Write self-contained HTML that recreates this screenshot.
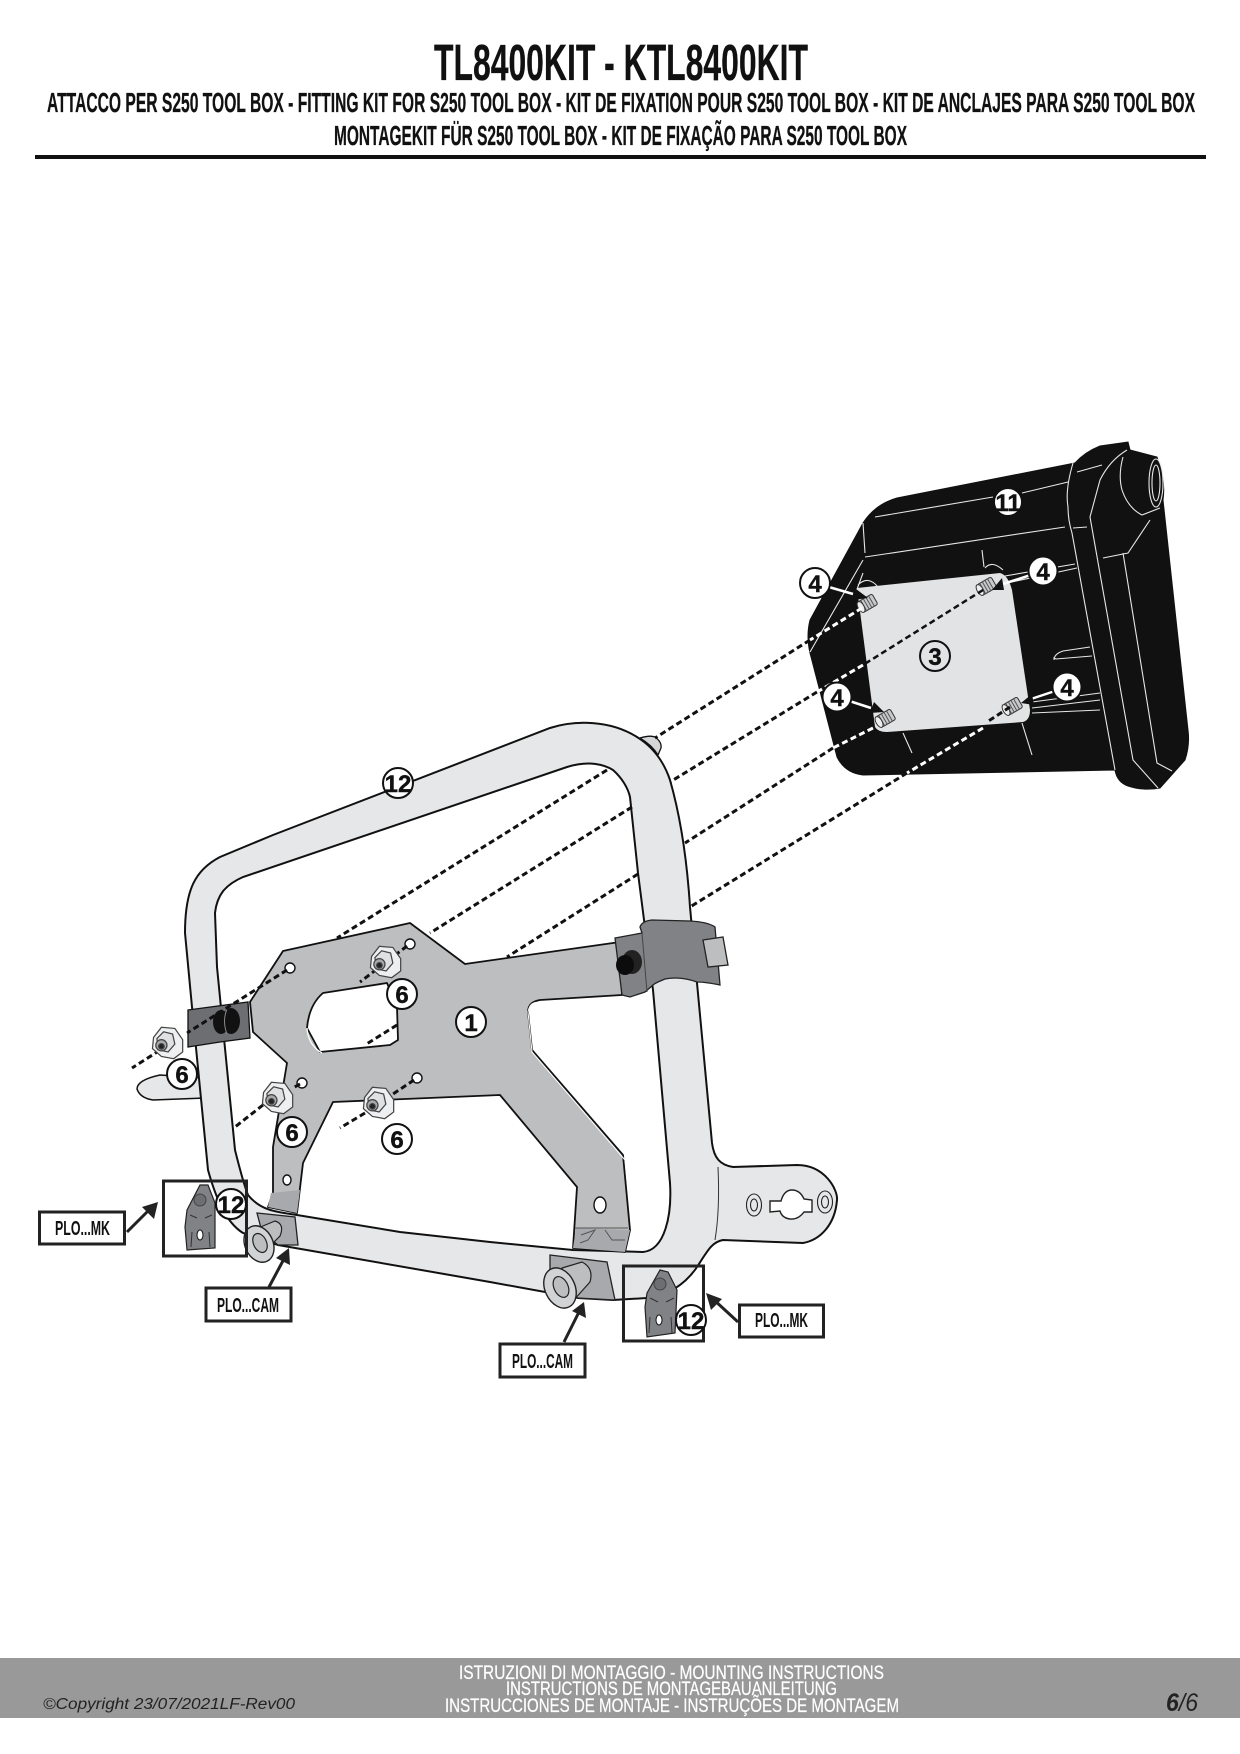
<!DOCTYPE html>
<html><head><meta charset="utf-8"><title>TL8400KIT</title>
<style>html,body{margin:0;padding:0;background:#fff}svg{display:block}
text{font-family:"Liberation Sans",sans-serif}</style></head>
<body>
<svg xmlns="http://www.w3.org/2000/svg" width="1240" height="1754" viewBox="0 0 1240 1754">
<rect width="1240" height="1754" fill="#fff"/>
<!-- header -->
<g font-weight="700" fill="#111" stroke="#111" stroke-width=".3">
<text x="434" y="80" font-size="51" textLength="374" lengthAdjust="spacingAndGlyphs">TL8400KIT - KTL8400KIT</text>
<text x="47" y="112" font-size="28" textLength="1148" lengthAdjust="spacingAndGlyphs">ATTACCO  PER S250 TOOL BOX - FITTING KIT FOR S250 TOOL BOX - KIT DE FIXATION POUR S250 TOOL BOX - KIT DE ANCLAJES PARA S250 TOOL BOX</text>
<text x="334" y="145" font-size="28" textLength="573" lengthAdjust="spacingAndGlyphs">MONTAGEKIT FÜR S250 TOOL BOX - KIT DE FIXAÇÃO PARA S250 TOOL BOX</text>
</g>
<rect x="35" y="155" width="1171" height="4" fill="#111"/>

<!-- footer -->
<rect x="0" y="1658" width="1240" height="60" fill="#999"/>
<g fill="#fff" stroke="#fff" stroke-width=".25" font-size="19">
<text x="459" y="1679" textLength="425" lengthAdjust="spacingAndGlyphs">ISTRUZIONI DI MONTAGGIO  -  MOUNTING INSTRUCTIONS</text>
<text x="506" y="1695" textLength="331" lengthAdjust="spacingAndGlyphs">INSTRUCTIONS DE MONTAGEBAUANLEITUNG</text>
<text x="445" y="1712" textLength="454" lengthAdjust="spacingAndGlyphs">INSTRUCCIONES DE MONTAJE - INSTRUÇÕES DE MONTAGEM</text>
</g>
<text x="43" y="1709" font-size="15.5" font-style="italic" fill="#222" textLength="252" lengthAdjust="spacingAndGlyphs">©Copyright 23/07/2021LF-Rev00</text>
<text x="1166" y="1711" font-size="25" font-style="italic" fill="#222" textLength="32" lengthAdjust="spacingAndGlyphs"><tspan font-weight="700">6</tspan>/6</text>

<!-- tool box -->
<path d="M1075,463 L897,498 C880,503 870,512 863,523 L810,620 Q806,636 810,653 L837,757 Q845,773 863,775 L1115,770 Q1117,782 1128,786 Q1143,791 1160,788 L1185,760 Q1190,745 1188,730 L1163,500 Q1166,480 1157,457 L1130,450 L1128,442 L1100,446 Q1085,452 1075,463 Z" fill="#111" stroke="#111"/>
<g fill="none" stroke="#e6e7e8" stroke-width="1.1">
<path d="M875,517 L993,497 M1022,493 L1068,482 M1077,472 L1102,465"/>
<path d="M863,523 L865,553 M865,557 L1065,527 M1073,528 L1087,527 M863,560 L810,652"/>
<path d="M1073,463 Q1065,490 1068,507 Q1068,520 1072,533 L1115,770"/>
<path d="M1127,450 Q1110,460 1100,480 L1090,517 L1133,760 L1158,788"/>
<path d="M1123,457 Q1118,475 1122,490 Q1128,508 1142,515 L1160,508"/>
<ellipse cx="1156" cy="483" rx="7" ry="24"/>
<ellipse cx="1156" cy="483" rx="4" ry="18"/>
<path d="M1150,520 L1128,553 L1103,558 M1123,553 L1157,763 L1172,771"/>
<path d="M1090,647 L1063,651 Q1054,654 1054,660 L1054,658 L1056,659 L1092,656"/>
<path d="M1007,583 L1077,568 M1005,576 L1075,564 M1032,702 L1100,693 M1032,708 L1100,700 M1032,713 L1100,710"/>
<path d="M903,733 L912,753 M1022,723 L1032,755"/>
<path d="M982,550 L984,567 M985,568 Q992,560 1003,570 M863,573 L856,592 M858,585 Q868,575 878,587"/>
</g>
<!-- mounting plate -->
<path d="M857,588 L1000,573 Q1008,575 1012,590 L1030,710 Q1030,720 1023,722 L887,732 Q878,732 875,727 Z" fill="#e2e3e4"/>

<!-- wing -->
<path d="M205,1078 L160,1075 Q137,1080 137,1089 Q140,1098 153,1100 L205,1098 Z" fill="#e6e7e8" stroke="#111" stroke-width="1.5"/>

<!-- frame -->
<path fill-rule="evenodd" d="M185,933 C185,890 195,870 220,857 L273,835 L550,728 C575,720 610,720 637,737 C655,748 665,765 670,780 C680,815 687,860 690,907 L697,983 L712,1143 C714,1158 720,1165 733,1167 L797,1165 C825,1165 838,1190 837,1200 C835,1225 820,1240 803,1243 L723,1240 C712,1242 708,1250 697,1267 C685,1285 665,1297 647,1298 L613,1300 L578,1298 L490,1282 L278,1245 L243,1233 C225,1222 215,1195 208,1170 L192,1007 Z
M215,913 C217,895 225,885 243,877 L567,767 C590,760 605,765 613,770 C622,778 628,788 630,797 L638,873 L653,990 L670,1183 C672,1215 665,1250 643,1252 L573,1250 L490,1242 L400,1232 L297,1215 C275,1212 260,1210 248,1195 C244,1185 240,1170 235,1150 L217,967 Z" fill="#e6e7e8" stroke="#111" stroke-width="2"/>
<path d="M640,738 Q650,735 655,737 Q662,742 661,748 L658,755 Q652,745 640,738 Z" fill="#d5d6d8" stroke="#111" stroke-width="1.3"/>
<path d="M718,1167 Q720,1210 715,1240" fill="none" stroke="#333" stroke-width="1"/>
<g fill="none" stroke="#222" stroke-width="1.1">
<ellipse cx="754" cy="1205" rx="7.5" ry="11"/><ellipse cx="754" cy="1205" rx="3.5" ry="6"/>
<ellipse cx="825" cy="1202" rx="7.5" ry="11"/><ellipse cx="825" cy="1202" rx="3.5" ry="6"/>
</g>
<path d="M770,1201 L781,1201 Q784,1190 792,1190 Q800,1190 804,1199 L812,1200 L812,1212 L804,1212 Q798,1220 790,1219 Q782,1218 780,1211 L770,1212 Z" fill="#fff" stroke="#222" stroke-width="1.4"/>

<!-- bracket plate -->
<path fill-rule="evenodd" d="M283,951 L410,923 L465,964 L620,942 L622,995 L540,1000 Q528,1002 528,1012 L532,1050 L623,1155 L630,1230 L625,1252 L573,1248 L577,1187 L500,1095 L333,1102 L303,1163 L297,1213 L268,1207 L273,1193 L273,1147 L287,1063 L253,1032 L250,1002 Z
M323,993 L387,983 L397,1007 L398,1040 L390,1045 L320,1052 L307,1028 Q309,1005 323,993 Z" fill="#bcbec0" stroke="#111" stroke-width="1.8" stroke-linejoin="round"/>
<path d="M528,1012 Q530,1000 541,1003 L620,997 M528,1012 L532,1052 L625,1160 L632,1230" fill="none" stroke="#fff" stroke-width="1"/>
<path d="M307,1028 Q308,1045 322,1053" fill="none" stroke="#fff" stroke-width="1.3"/>
<path d="M576,1228 L630,1230 L625,1252 L573,1248 Z" fill="#a7a9ac"/>
<path d="M581,1235 L595,1230 L588,1240 L580,1243 M605,1230 L612,1240 L625,1240" fill="none" stroke="#555" stroke-width="1"/>
<path d="M575,1228 L600,1228 M628,1228 L600,1228" fill="none" stroke="#555" stroke-width="1"/>
<path d="M271,1193 L268,1207 L297,1213 L300,1190 Z" fill="#a7a9ac"/>
<ellipse cx="600" cy="1205" rx="6" ry="8" fill="#fff" stroke="#111" stroke-width="1.4"/>
<ellipse cx="287" cy="1180" rx="4" ry="5" fill="#fff" stroke="#111" stroke-width="1.4"/>
<!-- plate holes -->
<g fill="#fff" stroke="#111" stroke-width="1.4">
<circle cx="290" cy="968" r="5"/><circle cx="410" cy="944" r="5"/><circle cx="302" cy="1083" r="5"/><circle cx="417" cy="1078" r="5"/>
</g>

<!-- clips -->
<path d="M188,1010 L248,1002 L250,1038 L220,1042 L188,1047 Z" fill="#6d6e71" stroke="#111" stroke-width="1.3"/>
<ellipse cx="221" cy="1022" rx="8" ry="12" fill="#111"/>
<ellipse cx="231" cy="1021" rx="9" ry="13" fill="#111"/>
<path d="M227,1009 Q222,1021 227,1034" fill="none" stroke="#888" stroke-width="1"/>
<path d="M615,938 L642,933 L640,927 Q642,921 652,920 L690,921 Q708,922 715,927 L720,985 Q705,982 697,982 Q680,976 665,979 Q655,983 653,985 L645,992 L630,997 L622,995 Z" fill="#808285" stroke="#222" stroke-width="1.3"/>
<path d="M642,933 L647,992" fill="none" stroke="#444" stroke-width="1"/>
<path d="M703,940 L723,937 L728,965 L708,967 Z" fill="#bcbec0" stroke="#222" stroke-width="1.3"/>
<ellipse cx="632" cy="962" rx="10" ry="12" fill="#222"/>
<ellipse cx="625" cy="965" rx="9" ry="10" fill="#0c0c0c"/>

<!-- lower mounts -->
<path d="M257,1213 L295,1217 L298,1245 L278,1245 L262,1232 Z" fill="#a7a9ac" stroke="#222" stroke-width="1.3"/>
<path d="M258,1228 L275,1221 Q285,1224 280,1236 L268,1248 Z" fill="#bcbec0" stroke="#222" stroke-width="1.2"/>
<ellipse cx="259" cy="1244" rx="14" ry="19" transform="rotate(-25 259 1244)" fill="#d1d3d4" stroke="#222" stroke-width="1.4"/>
<ellipse cx="260" cy="1243" rx="6.5" ry="10" transform="rotate(-25 260 1243)" fill="#bcbec0" stroke="#222" stroke-width="1.2"/>
<path d="M550,1255 L607,1262 L615,1300 L578,1298 L550,1290 Z" fill="#a7a9ac" stroke="#222" stroke-width="1.3"/>
<path d="M562,1268 L582,1262 Q594,1268 590,1282 L572,1302 Z" fill="#bcbec0" stroke="#222" stroke-width="1.2"/>
<ellipse cx="560" cy="1288" rx="15" ry="21" transform="rotate(-25 560 1288)" fill="#d1d3d4" stroke="#222" stroke-width="1.4"/>
<ellipse cx="561" cy="1287" rx="7" ry="11" transform="rotate(-25 561 1287)" fill="#bcbec0" stroke="#222" stroke-width="1.2"/>

<!-- MK pieces and boxes -->
<g id="mk1">
<path d="M187,1210 L200,1185 L208,1185 L215,1203 L215,1248 L187,1250 L185,1227 Z" fill="#808285" stroke="#222" stroke-width="1.2"/>
<circle cx="200" cy="1200" r="6" fill="#6d6e71" stroke="#444"/>
<ellipse cx="200" cy="1235" rx="3" ry="5" fill="#fff" stroke="#111"/>
<path d="M190,1215 L197,1218 M212,1215 L205,1218 M192,1232 L191,1247 M209,1232 L210,1247" fill="none" stroke="#333"/>
</g>
<rect x="163.500" y="1181" width="83" height="75" fill="none" stroke="#222" stroke-width="3"/>
<path d="M647,1293 L660,1270 L668,1272 L677,1290 L675,1333 L647,1337 L645,1307 Z" fill="#808285" stroke="#222" stroke-width="1.2"/>
<circle cx="660" cy="1284" r="6" fill="#6d6e71" stroke="#444"/>
<ellipse cx="659" cy="1320" rx="3" ry="5" fill="#fff" stroke="#111"/>
<path d="M650,1298 L658,1302 M674,1298 L666,1302 M650,1317 L649,1333 M671,1317 L672,1333" fill="none" stroke="#333"/>
<rect x="623.500" y="1266" width="80" height="75" fill="none" stroke="#222" stroke-width="3"/>

<!-- studs -->
<g>
<g transform="translate(868,603) rotate(-30)"><rect x="-8" y="-6" width="16" height="12" rx="2" fill="#c8c9cb" stroke="#333"/><path d="M-5,-6V6M-2,-6V6M1,-6V6M4,-6V6" stroke="#555"/><ellipse cx="-8" cy="0" rx="3" ry="6" fill="#eee" stroke="#333"/></g>
<g transform="translate(987,586) rotate(-30)"><rect x="-8" y="-6" width="16" height="12" rx="2" fill="#c8c9cb" stroke="#333"/><path d="M-5,-6V6M-2,-6V6M1,-6V6M4,-6V6" stroke="#555"/><ellipse cx="-8" cy="0" rx="3" ry="6" fill="#eee" stroke="#333"/></g>
<g transform="translate(886,718) rotate(-30)"><rect x="-8" y="-6" width="16" height="12" rx="2" fill="#c8c9cb" stroke="#333"/><path d="M-5,-6V6M-2,-6V6M1,-6V6M4,-6V6" stroke="#555"/><ellipse cx="-8" cy="0" rx="3" ry="6" fill="#eee" stroke="#333"/></g>
<g transform="translate(1013,706) rotate(-30)"><rect x="-8" y="-6" width="16" height="12" rx="2" fill="#c8c9cb" stroke="#333"/><path d="M-5,-6V6M-2,-6V6M1,-6V6M4,-6V6" stroke="#555"/><ellipse cx="-8" cy="0" rx="3" ry="6" fill="#eee" stroke="#333"/></g>
</g>

<!-- dashed lines -->
<g fill="none" stroke="#111" stroke-width="3" stroke-dasharray="6 3.500">
<path d="M810,640 L655,738 M607,770 L337,938"/>
<path d="M287,970 L187,1033 M176,1040 L132,1068"/>
<path d="M983,590 L863,665" stroke-width="2.500"/>
<path d="M817,692 L670,782 M632,807 L430,933 M407,946 L360,982 M397,1025 L365,1045"/>
<path d="M833,748 L685,843 M638,874 L507,957 M414,1080 L387,1098 M365,1113 L340,1128"/>
<path d="M1010,707 L987,722"/>
<path d="M907,773 L690,907 M300,1084 L293,1088 M263,1105 L235,1127"/>
</g>
<g fill="none" stroke="#fff" stroke-width="3" stroke-dasharray="6 3.500">
<path d="M862,608 L810,640"/>
<path d="M863,665 L817,692"/>
<path d="M873,728 L833,748"/>
<path d="M983,728 L907,773"/>
</g>

<!-- leaders -->
<g fill="none" stroke="#fff" stroke-width="2.500">
<path d="M815,583 L853,594 M1043,571 L1003,584"/>
<path d="M1067,687 L1031,699 M837,697 L871,708"/>
</g>
<g fill="#111">
<path d="M884,712 L870,713 L874,702 Z"/>
<path d="M1021,703 L1032,694 L1034,705 Z"/>
<path d="M868,598 L853,600 L856,589 Z"/>
<path d="M992,590 L1002,578 L1004,590 Z"/>
</g>

<!-- nuts -->
<g fill="#eeeff0" stroke="#444" stroke-width="1.100">
<g transform="translate(167,1043) scale(1.12)"><path d="M-12,-5 L-5,-14 L7,-13 L14,-3 L14,8 L6,14 L-5,12 L-13,5 Z"/><path d="M-9,-4 L-3,-10 L5,-8 L7,1 L1,8 L-8,6 Z" fill="#e0e1e2"/><circle cx="-5" cy="2" r="5" fill="#a7a9ac"/><circle cx="-5" cy="3" r="2.500" fill="#222"/></g>
<g transform="translate(385,962) scale(1.12)"><path d="M-12,-5 L-5,-14 L7,-13 L14,-3 L14,8 L6,14 L-5,12 L-13,5 Z"/><path d="M-9,-4 L-3,-10 L5,-8 L7,1 L1,8 L-8,6 Z" fill="#e0e1e2"/><circle cx="-5" cy="2" r="5" fill="#a7a9ac"/><circle cx="-5" cy="3" r="2.500" fill="#222"/></g>
<g transform="translate(277,1098) scale(1.12)"><path d="M-12,-5 L-5,-14 L7,-13 L14,-3 L14,8 L6,14 L-5,12 L-13,5 Z"/><path d="M-9,-4 L-3,-10 L5,-8 L7,1 L1,8 L-8,6 Z" fill="#e0e1e2"/><circle cx="-5" cy="2" r="5" fill="#a7a9ac"/><circle cx="-5" cy="3" r="2.500" fill="#222"/></g>
<g transform="translate(378,1103) scale(1.12)"><path d="M-12,-5 L-5,-14 L7,-13 L14,-3 L14,8 L6,14 L-5,12 L-13,5 Z"/><path d="M-9,-4 L-3,-10 L5,-8 L7,1 L1,8 L-8,6 Z" fill="#e0e1e2"/><circle cx="-5" cy="2" r="5" fill="#a7a9ac"/><circle cx="-5" cy="3" r="2.500" fill="#222"/></g>
</g>

<!-- arrows -->
<g fill="none" stroke="#222" stroke-width="3">
<path d="M127,1232 L150,1209"/><path d="M269,1287 L285,1257"/><path d="M564,1342 L580,1310"/><path d="M738,1322 L713,1299"/>
</g>
<g fill="#222">
<path d="M158,1202 L154,1219 L142,1207 Z"/><path d="M289,1248 L290,1265 L276,1258 Z"/><path d="M584,1302 L586,1318 L572,1311 Z"/><path d="M706,1293 L722,1299 L711,1310 Z"/>
</g>

<!-- label boxes -->
<g fill="#fff" stroke="#222" stroke-width="3">
<rect x="39.500" y="1212" width="85" height="32"/>
<rect x="206" y="1288" width="85" height="33"/>
<rect x="500" y="1344" width="85" height="33"/>
<rect x="739.500" y="1305" width="84" height="32"/>
</g>
<g font-weight="700" font-size="20" fill="#111">
<text x="55" y="1235" textLength="55" lengthAdjust="spacingAndGlyphs">PLO...MK</text>
<text x="217" y="1312" textLength="62" lengthAdjust="spacingAndGlyphs">PLO...CAM</text>
<text x="512" y="1368" textLength="61" lengthAdjust="spacingAndGlyphs">PLO...CAM</text>
<text x="755" y="1327" textLength="53" lengthAdjust="spacingAndGlyphs">PLO...MK</text>
</g>

<!-- callouts -->
<g fill="#fff" stroke="#111" stroke-width="2">
<circle cx="1008" cy="502" r="14"/>
<circle cx="815" cy="583" r="15"/><circle cx="1043" cy="571" r="14.500"/><circle cx="837" cy="697" r="14.500"/><circle cx="1067" cy="687" r="14.500"/>
<circle cx="935" cy="656" r="15" fill="#e2e3e4"/>
<circle cx="398" cy="783" r="15"/><circle cx="402" cy="994" r="15"/><circle cx="471" cy="1022" r="15"/>
<circle cx="182" cy="1074" r="15"/><circle cx="292" cy="1132" r="15"/><circle cx="397" cy="1139" r="15"/>
<circle cx="231" cy="1204" r="15"/><circle cx="691" cy="1320" r="15"/>
</g>
<g font-weight="700" font-size="24" fill="#111" stroke="#111" stroke-width=".4" text-anchor="middle">
<text x="1008" y="511">11</text>
<text x="815" y="592">4</text><text x="1043" y="580">4</text><text x="837" y="706">4</text><text x="1067" y="696">4</text>
<text x="935" y="665">3</text>
<text x="398" y="792">12</text><text x="402" y="1003">6</text><text x="471" y="1031">1</text>
<text x="182" y="1083">6</text><text x="292" y="1141">6</text><text x="397" y="1148">6</text>
<text x="231" y="1213">12</text><text x="691" y="1329">12</text>
</g>
</svg>
</body></html>
